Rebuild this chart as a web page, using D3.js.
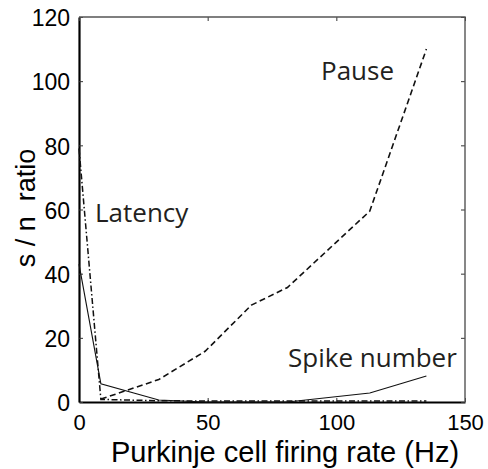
<!DOCTYPE html>
<html>
<head>
<meta charset="utf-8">
<script src="https://cdn.jsdelivr.net/npm/d3@7"></script>
<style>
  body { margin: 0; background: #fff; }
  .tick text { font-family: "Liberation Sans", Arial, sans-serif; }
</style>
</head>
<body>
<div id="container"></div>
<script>
let w = 488;
let h = 469;
let margin = {left: 79, right: 23, top: 17, bottom: 67};

// data
let firingRate = [0, 8.5, 31, 49, 67, 81, 113, 135];
let pauseSN   = [null, 0.9, 7, 15.8, 30.2, 35.7, 59.5, 110];
let spikeSN   = [43, 5.7, 0.6, 0, 0, 0, 2.8, 8.1];
let latencySN = [79, 0.8, 0.4, 0.3, 0.3, 0.3, 0.3, 0.3];

let xTicks = [0, 50, 100, 150];
let yTicks = [0, 20, 40, 60, 80, 100, 120];

let viz = d3.select("#container").append("svg")
    .attr("width", w)
    .attr("height", h)
    .style("background-color", "white")
;

let xScale = d3.scaleLinear().domain([0, 150]).range([margin.left, w - margin.right]);
let yScale = d3.scaleLinear().domain([0, 120]).range([h - margin.bottom, margin.top]);

// axes, matlab style: ticks pointing inward
let xAxis = d3.axisBottom(xScale).tickValues(xTicks).tickSizeInner(-4).tickSizeOuter(0).tickPadding(12);
let yAxis = d3.axisLeft(yScale).tickValues(yTicks).tickSizeInner(-4).tickSizeOuter(0).tickPadding(9);

let xAxisGroup = viz.append("g")
    .attr("class", "xaxisgroup")
    .attr("transform", "translate(0," + (h - margin.bottom) + ")")
    .call(xAxis);
let yAxisGroup = viz.append("g")
    .attr("class", "yaxisgroup")
    .attr("transform", "translate(" + margin.left + ",0)")
    .call(yAxis);

// top and right ticks
viz.append("g")
    .attr("transform", "translate(0," + margin.top + ")")
    .call(d3.axisTop(xScale).tickValues(xTicks).tickSizeInner(-4).tickSizeOuter(0).tickFormat(""))
    .select(".domain").remove();
viz.append("g")
    .attr("transform", "translate(" + (w - margin.right) + ",0)")
    .call(d3.axisRight(yScale).tickValues(yTicks).tickSizeInner(-4).tickSizeOuter(0).tickFormat(""))
    .select(".domain").remove();

viz.selectAll(".tick line").attr("stroke", "#333").attr("stroke-width", 1);
xAxisGroup.selectAll("text").attr("font-size", 22).attr("fill", "#000");
yAxisGroup.selectAll("text").attr("font-size", 23).attr("fill", "#000").attr("dy", "0.38em");
[xAxisGroup, yAxisGroup].forEach(g => {
  g.select(".domain").attr("stroke", "#000").attr("stroke-width", 2.2);
});

// top + right frame
viz.append("path")
    .attr("d", "M" + xScale(0) + "," + yScale(120) + "H" + xScale(150) + "V" + yScale(0))
    .attr("fill", "none")
    .attr("stroke", "#555")
    .attr("stroke-width", 1.4);

// lines
let graphGroup = viz.append("g").attr("class", "graphgroup");

function makeLine(vals) {
  return d3.line()
    .defined((d, i) => vals[i] !== null)
    .x((d, i) => xScale(firingRate[i]))
    .y((d, i) => yScale(vals[i]))(vals);
}

graphGroup.append("path")
    .attr("d", makeLine(latencySN))
    .attr("fill", "none")
    .attr("stroke", "#111")
    .attr("stroke-width", 1.5)
    .attr("stroke-dasharray", "6,2.5,1.5,2.5");

graphGroup.append("path")
    .attr("d", makeLine(pauseSN))
    .attr("fill", "none")
    .attr("stroke", "#111")
    .attr("stroke-width", 1.6)
    .attr("stroke-dasharray", "6,3.5");

graphGroup.append("path")
    .attr("d", makeLine(spikeSN))
    .attr("fill", "none")
    .attr("stroke", "#111")
    .attr("stroke-width", 1.1);

// series labels
let labelFont = "'Open Sans', 'Noto Sans', sans-serif";
let labels = [
  {text: "Latency", x: 95, y: 222},
  {text: "Pause", x: 321, y: 80},
  {text: "Spike number", x: 288, y: 367}
];
viz.selectAll(".serieslabel").data(labels).enter()
  .append("text")
    .attr("class", "serieslabel")
    .attr("x", d => d.x)
    .attr("y", d => d.y)
    .attr("font-family", labelFont)
    .attr("font-size", 26)
    .attr("fill", "#231f20")
    .text(d => d.text);

// axis titles
viz.append("text")
    .attr("text-anchor", "middle")
    .attr("x", 285)
    .attr("y", 462)
    .attr("font-family", "'Liberation Sans', Arial, sans-serif")
    .attr("font-size", 29)
    .text("Purkinje cell firing rate (Hz)");

viz.append("text")
    .attr("text-anchor", "middle")
    .attr("transform", "translate(35,208) rotate(-90)")
    .attr("font-family", "'Liberation Sans', Arial, sans-serif")
    .attr("font-size", 27)
    .style("white-space", "pre")
    .text("s / n  ratio");
</script>
</body>
</html>
